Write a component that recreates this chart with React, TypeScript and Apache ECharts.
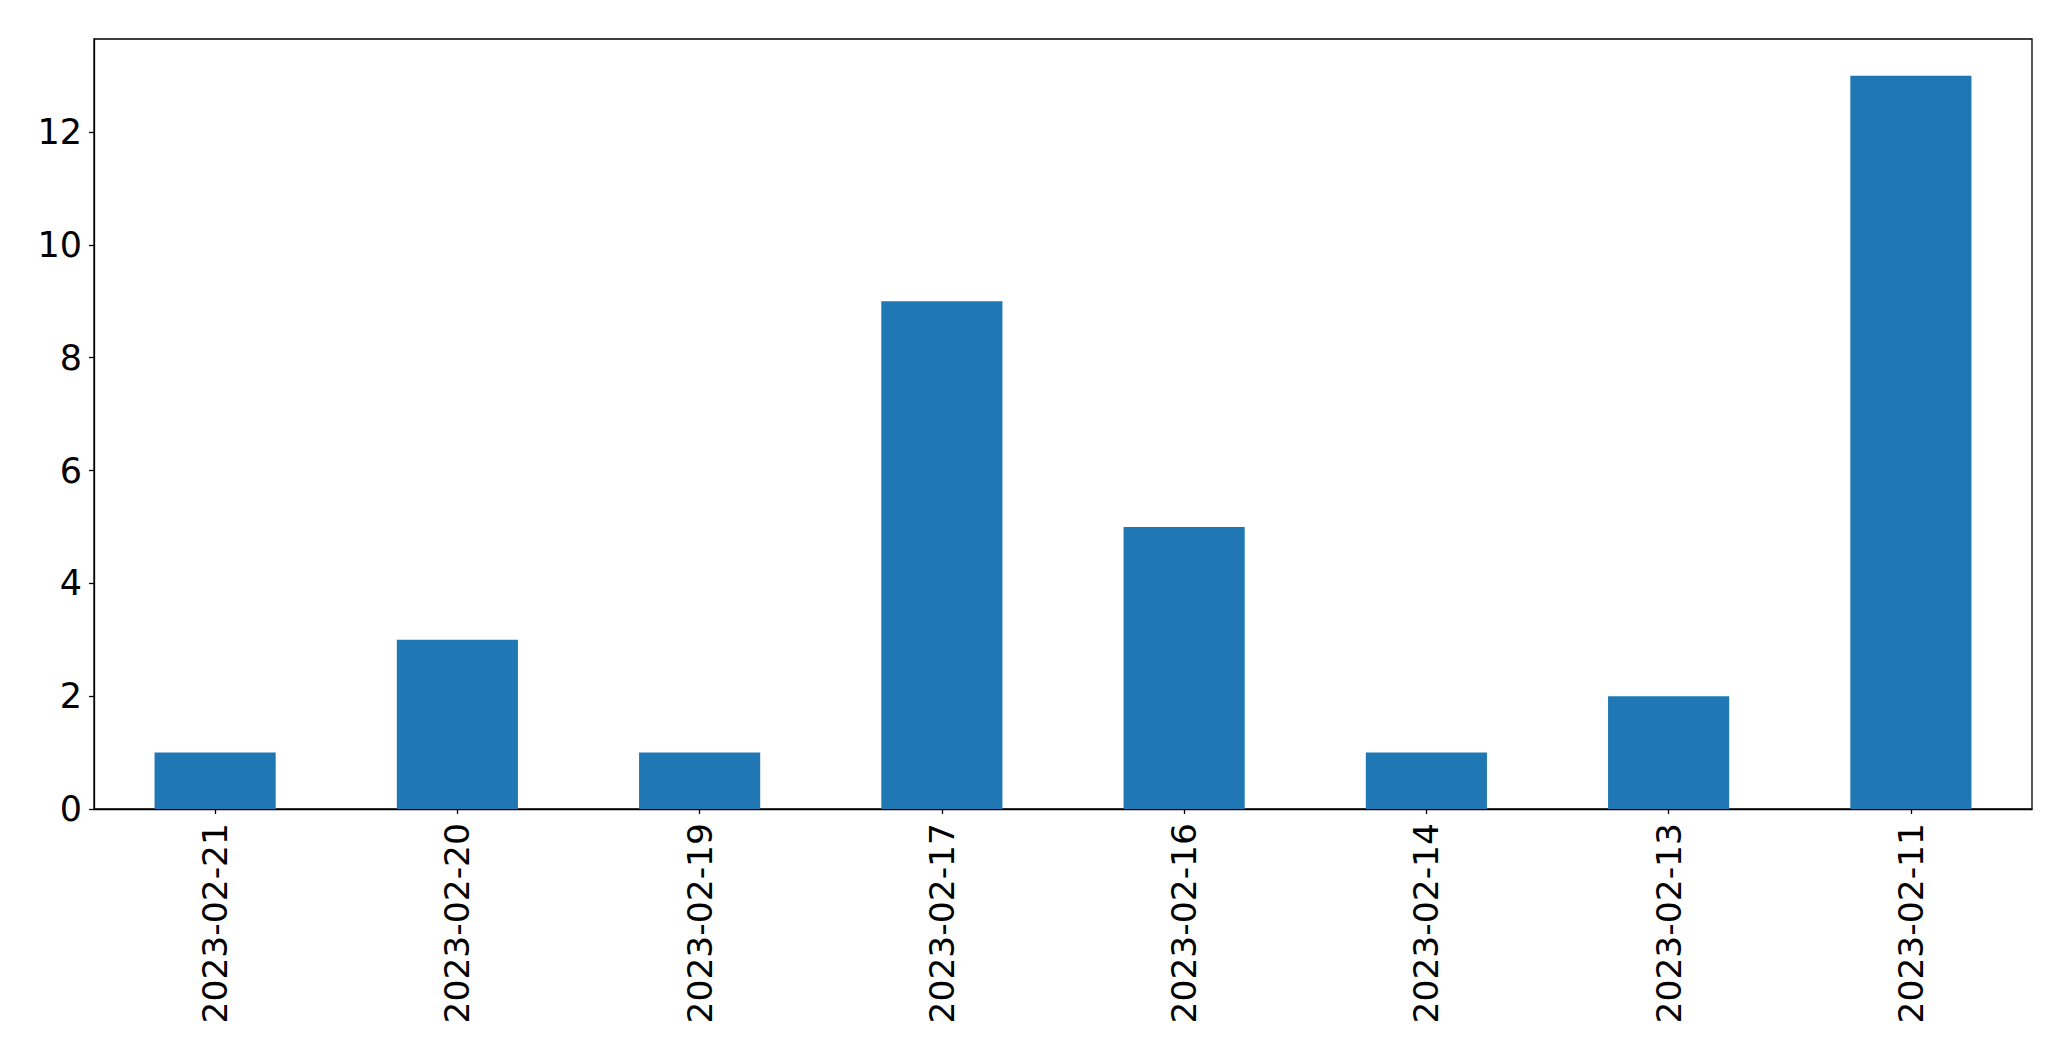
import React, { useEffect, useRef } from "react";
import * as echarts from "echarts";

const categories = ["2023-02-21", "2023-02-20", "2023-02-19", "2023-02-17", "2023-02-16", "2023-02-14", "2023-02-13", "2023-02-11"];
const values = [1, 3, 1, 9, 5, 1, 2, 13];
const yTicks = [0, 2, 4, 6, 8, 10, 12];

export default function App() {
  const ref = useRef<HTMLDivElement>(null);
  useEffect(() => {
    document.body.style.margin = "0";
    const chart = echarts.init(ref.current!, null, { renderer: "svg" });
    const font = "DejaVu Sans";
    chart.setOption({
      animation: false,
      backgroundColor: "#ffffff",
      grid: {
        left: 94,
        right: 39,
        top: 39,
        bottom: 252,
        show: true,
        borderColor: "#000000",
        borderWidth: 1.3,
        backgroundColor: "transparent",
      },
      xAxis: {
        type: "category",
        data: categories,
        boundaryGap: true,
        axisLine: { show: true, lineStyle: { color: "#000000", width: 1.3 } },
        axisTick: { show: true, alignWithLabel: true, length: 5, lineStyle: { color: "#000000", width: 1.3 } },
        axisLabel: { rotate: 90, fontSize: 34.5, fontFamily: font, color: "#000000", margin: 14, interval: 0 },
        splitLine: { show: false },
      },
      yAxis: {
        type: "value",
        min: 0,
        max: 13.65,
        interval: 2,
        axisLine: { show: true, lineStyle: { color: "#000000", width: 1.3 } },
        axisTick: { show: true, length: 5, customValues: yTicks, lineStyle: { color: "#000000", width: 1.3 } },
        axisLabel: { fontSize: 35, fontFamily: font, color: "#000000", margin: 12, customValues: yTicks },
        splitLine: { show: false },
      },
      series: [
        {
          type: "bar",
          data: values,
          barWidth: "50%",
          itemStyle: { color: "#1f77b4" },
        },
      ],
    });
    return () => chart.dispose();
  }, []);
  return <div ref={ref} style={{ width: 2071, height: 1061 }} />;
}
